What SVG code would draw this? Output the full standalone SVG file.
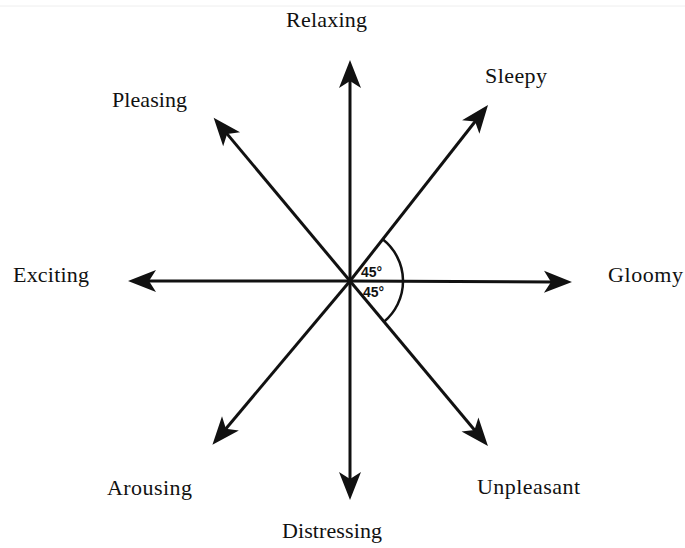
<svg xmlns="http://www.w3.org/2000/svg" width="685" height="548" viewBox="0 0 685 548">
<style>
.lbl{font-family:"Liberation Serif","DejaVu Serif",serif;font-size:22px;fill:#111}
.deg{font-family:"Liberation Sans","DejaVu Sans",sans-serif;font-size:14px;font-weight:bold;fill:#111}
.ax{stroke:#111;stroke-width:3;fill:none;marker-end:url(#ah)}
</style>
<defs>
<marker id="ah" markerUnits="userSpaceOnUse" viewBox="-12 -12 34 24" refX="0" refY="0" markerWidth="34" markerHeight="24" orient="auto" overflow="visible">
<path d="M18,0 L-10,-11 L-3,0 L-10,11 Z" fill="#111"/>
</marker>
</defs>
<rect width="685" height="548" fill="#fff"/>
<line x1="0" y1="6" x2="685" y2="6" stroke="#eeeeee" stroke-width="1"/>
<g id="connectors">
<line class="ax" x1="350" y1="281" x2="350" y2="78"/>
<line class="ax" x1="350" y1="281" x2="350" y2="482"/>
<line class="ax" x1="350" y1="281" x2="554" y2="281.9"/>
<line class="ax" x1="350" y1="281" x2="146" y2="281"/>
<line class="ax" x1="350" y1="281" x2="476.9" y2="119.2"/>
<line class="ax" x1="350" y1="281" x2="225.2" y2="131.6"/>
<line class="ax" x1="350" y1="281" x2="224" y2="431"/>
<line class="ax" x1="350" y1="281" x2="476.4" y2="432.2"/>
<path id="angle-arc" d="M382.7,239.3 A53,53 0 0 1 384,321.7" fill="none" stroke="#111" stroke-width="2.5"/>
</g>
<g id="angle-labels">
<text class="deg" x="361" y="277">45°</text>
<text class="deg" x="363" y="297">45°</text>
</g>
<g id="relaxing"><text class="lbl" x="286" y="27" textLength="81">Relaxing</text></g>
<g id="sleepy"><text class="lbl" x="485" y="83" textLength="62">Sleepy</text></g>
<g id="pleasing"><text class="lbl" x="112" y="107" textLength="75">Pleasing</text></g>
<g id="exciting"><text class="lbl" x="13" y="282" textLength="76">Exciting</text></g>
<g id="gloomy"><text class="lbl" x="608" y="282" textLength="75">Gloomy</text></g>
<g id="arousing"><text class="lbl" x="107" y="495" textLength="85">Arousing</text></g>
<g id="unpleasant"><text class="lbl" x="477" y="494" textLength="103">Unpleasant</text></g>
<g id="distressing"><text class="lbl" x="282" y="538" textLength="100">Distressing</text></g>
</svg>
